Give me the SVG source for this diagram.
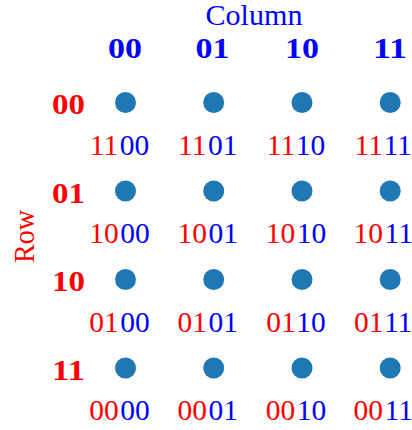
<svg xmlns="http://www.w3.org/2000/svg" width="412" height="430" viewBox="0 0 412 430">
<style>
text{font-family:"Liberation Serif","DejaVu Serif",serif;font-size:29.5px}
.r{fill:#ff0000}
.b{fill:#0000ff}
.bold{font-weight:bold;font-size:28px}
.dot{fill:#1f77b4}
.e{text-anchor:end}
.m{text-anchor:middle}
</style>
<rect width="412" height="430" fill="#ffffff"/>
<g id="axis-labels">
<text class="b m" x="254" y="25" textLength="97" lengthAdjust="spacingAndGlyphs">Column</text>
<text class="r m" transform="translate(33.5,236.5) rotate(-90)" textLength="53" lengthAdjust="spacingAndGlyphs">Row</text>
</g>
<g id="col-headers" class="b bold">
<text class="m" x="125" y="57.5" textLength="34" lengthAdjust="spacingAndGlyphs">00</text>
<text class="m" x="212.5" y="57.5" textLength="34" lengthAdjust="spacingAndGlyphs">01</text>
<text class="m" x="302" y="57.5" textLength="34" lengthAdjust="spacingAndGlyphs">10</text>
<text class="m" x="390" y="57.5" textLength="34" lengthAdjust="spacingAndGlyphs">11</text>
</g>
<g id="row-headers" class="r bold">
<text class="e" x="85" y="114" textLength="33" lengthAdjust="spacingAndGlyphs">00</text>
<text class="e" x="85" y="202.5" textLength="33" lengthAdjust="spacingAndGlyphs">01</text>
<text class="e" x="85" y="291" textLength="33" lengthAdjust="spacingAndGlyphs">10</text>
<text class="e" x="85" y="379.5" textLength="33" lengthAdjust="spacingAndGlyphs">11</text>
</g>
<g id="points">
<g id="p1100"><circle class="dot" cx="125.5" cy="102.5" r="10.5"/><text class="m" x="119.5" y="154.5"><tspan class="r">11</tspan><tspan class="b" dx="1.5">00</tspan></text></g>
<g id="p1101"><circle class="dot" cx="213.7" cy="102.5" r="10.5"/><text class="m" x="207.7" y="154.5"><tspan class="r">11</tspan><tspan class="b" dx="1.5">01</tspan></text></g>
<g id="p1110"><circle class="dot" cx="302" cy="102.5" r="10.5"/><text class="m" x="296" y="154.5"><tspan class="r">11</tspan><tspan class="b" dx="1.5">10</tspan></text></g>
<g id="p1111"><circle class="dot" cx="390.2" cy="102.5" r="10.5"/><text class="m" x="383.2" y="154.5"><tspan class="r">11</tspan><tspan class="b" dx="1.5">11</tspan></text></g>

<g id="p1000"><circle class="dot" cx="125.5" cy="191" r="10.5"/><text class="m" x="119.5" y="243"><tspan class="r">10</tspan><tspan class="b" dx="1.5">00</tspan></text></g>
<g id="p1001"><circle class="dot" cx="213.7" cy="191" r="10.5"/><text class="m" x="207.7" y="243"><tspan class="r">10</tspan><tspan class="b" dx="1.5">01</tspan></text></g>
<g id="p1010"><circle class="dot" cx="302" cy="191" r="10.5"/><text class="m" x="296" y="243"><tspan class="r">10</tspan><tspan class="b" dx="1.5">10</tspan></text></g>
<g id="p1011"><circle class="dot" cx="390.2" cy="191" r="10.5"/><text class="m" x="383.2" y="243"><tspan class="r">10</tspan><tspan class="b" dx="1.5">11</tspan></text></g>

<g id="p0100"><circle class="dot" cx="125.5" cy="279.5" r="10.5"/><text class="m" x="119.5" y="331.5"><tspan class="r">01</tspan><tspan class="b" dx="1.5">00</tspan></text></g>
<g id="p0101"><circle class="dot" cx="213.7" cy="279.5" r="10.5"/><text class="m" x="207.7" y="331.5"><tspan class="r">01</tspan><tspan class="b" dx="1.5">01</tspan></text></g>
<g id="p0110"><circle class="dot" cx="302" cy="279.5" r="10.5"/><text class="m" x="296" y="331.5"><tspan class="r">01</tspan><tspan class="b" dx="1.5">10</tspan></text></g>
<g id="p0111"><circle class="dot" cx="390.2" cy="279.5" r="10.5"/><text class="m" x="383.2" y="331.5"><tspan class="r">01</tspan><tspan class="b" dx="1.5">11</tspan></text></g>

<g id="p0000"><circle class="dot" cx="125.5" cy="368" r="10.5"/><text class="m" x="119.5" y="420"><tspan class="r">00</tspan><tspan class="b" dx="1.5">00</tspan></text></g>
<g id="p0001"><circle class="dot" cx="213.7" cy="368" r="10.5"/><text class="m" x="207.7" y="420"><tspan class="r">00</tspan><tspan class="b" dx="1.5">01</tspan></text></g>
<g id="p0010"><circle class="dot" cx="302" cy="368" r="10.5"/><text class="m" x="296" y="420"><tspan class="r">00</tspan><tspan class="b" dx="1.5">10</tspan></text></g>
<g id="p0011"><circle class="dot" cx="390.2" cy="368" r="10.5"/><text class="m" x="383.2" y="420"><tspan class="r">00</tspan><tspan class="b" dx="1.5">11</tspan></text></g>
</g>
<g id="connectors"/>
</svg>
